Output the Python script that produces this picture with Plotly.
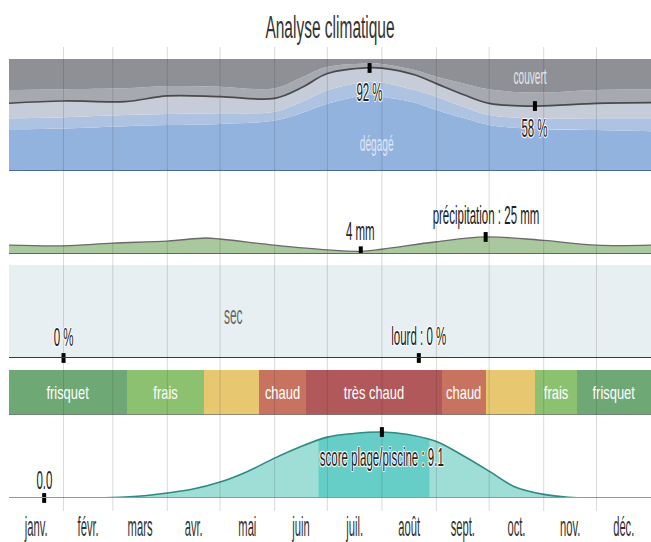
import plotly.graph_objects as go

# ---------------- data ----------------
months = ["janv.", "févr.", "mars", "avr.", "mai", "juin", "juil.", "août", "sept.", "oct.", "nov.", "déc."]
month_days = [31, 28, 31, 30, 31, 30, 31, 31, 30, 31, 30, 31]

# cloud cover (cumulative % boundaries, from bottom)
cloud_days = [0, 31, 66, 90, 120, 151, 167, 181, 205, 212, 231, 243, 259, 273, 299, 334, 365]
clear_top = [37.2, 38, 40, 41, 42, 45, 52, 60, 67.8, 66.4, 61, 54.5, 47, 41, 37.5, 36.6, 35.5]
mostly_clear_top = [47, 48, 50, 51, 51.5, 53, 62, 72, 79.8, 79, 72, 66.4, 57, 50, 47, 47, 47]
partly_cloudy_top = [60.5, 62.5, 62, 67, 66.4, 64.9, 75, 87, 92.3, 91.8, 85.7, 78, 67.8, 60.4, 58, 60.4, 61]
mostly_cloudy_top = [72.3, 73, 73.8, 75.9, 75.3, 73.8, 84, 93, 96, 95.5, 90, 84.2, 78, 72.9, 70, 72.3, 72.9]
overcast_top = [100] * 17
cloud_marker_days = [205, 299]
cloud_marker_pct = [92, 58]

# precipitation (mm)
precip_days = [0, 31, 59, 90, 112, 120, 151, 181, 200, 212, 243, 271, 304, 334, 365]
precip_mm = [13, 12, 16, 19, 23.5, 22, 13, 6, 4, 7, 18, 25, 20, 13, 13]
precip_marker_days = [200, 271]
precip_marker_mm = [4, 25]

# humidity comfort (%)
humid_days = [0, 212, 225, 240, 260, 275, 289, 365]
muggy_pct = [0, 0, 0.9, 1.6, 1.1, 0.4, 0, 0]
dry_pct = [100, 100, 99.1, 98.4, 98.9, 99.6, 100, 100]
humid_marker_days = [31, 233]
humid_marker_pct = [0, 0]

# temperature bands
temp_labels = ["frisquet", "frais", "", "chaud", "très chaud", "chaud", "", "frais", "frisquet"]
temp_start = [0, 67, 111, 142, 169, 246, 271, 299, 323]
temp_end = [67, 111, 142, 169, 246, 271, 299, 323, 365]
temp_colors = ["#6ea875", "#8cc170", "#e7c770", "#c7735f", "#b0585a", "#c7735f", "#e7c770", "#8cc170", "#6ea875"]

# beach / pool score
beach_days = [0, 14, 31, 45, 59, 73, 90, 104, 120, 135, 151, 165, 181, 196, 212, 226, 243, 257, 273, 287, 304, 318, 334, 348, 365]
beach_score = [0, 0, 0, 0, 0.05, 0.25, 0.7, 1.2, 2.2, 3.6, 5.5, 7.0, 8.4, 8.9, 9.1, 8.8, 7.8, 6.0, 3.7, 1.6, 0.5, 0.1, 0, 0, 0]
best_days = [176, 181, 196, 212, 226, 239]
best_score = [8.1, 8.4, 8.9, 9.1, 8.8, 8.1]
beach_marker_days = [20, 212]
beach_marker_score = [0.0, 9.1]

# ---------------- figure ----------------
H = 542.0


def dom(top_px, bottom_px):
    return [1 - bottom_px / H, 1 - top_px / H]


FONT = "Liberation Sans, Arial, sans-serif"
MARK = dict(symbol="line-ns", size=7, line=dict(width=4, color="black"), color="black")
fig = go.Figure()

# cloud panel
cloud_series = [
    (clear_top, "#93b3df", "tozeroy"),
    (mostly_clear_top, "#aec3e2", "tonexty"),
    (partly_cloudy_top, "#c6cdd9", "tonexty"),
    (mostly_cloudy_top, "#a6a9b0", "tonexty"),
    (overcast_top, "#8e9095", "tonexty"),
]
for ys, col, fill in cloud_series:
    fig.add_trace(go.Scatter(x=cloud_days, y=ys, xaxis="x", yaxis="y", mode="lines",
                             line=dict(shape="spline", width=0, color=col),
                             fill=fill, fillcolor=col, hoverinfo="skip"))
fig.add_trace(go.Scatter(x=cloud_days, y=partly_cloudy_top, xaxis="x", yaxis="y", mode="lines",
                         line=dict(shape="spline", width=1.7, color="#4a4a4a"), hoverinfo="skip"))
fig.add_trace(go.Scatter(x=cloud_marker_days, y=cloud_marker_pct, xaxis="x", yaxis="y", mode="markers",
                         marker=MARK, hoverinfo="skip"))

# precipitation
fig.add_trace(go.Scatter(x=precip_days, y=precip_mm, xaxis="x", yaxis="y2", mode="lines",
                         line=dict(shape="spline", width=1.3, color="#6a6a6a"),
                         fill="tozeroy", fillcolor="#aac89d", hoverinfo="skip"))
fig.add_trace(go.Scatter(x=precip_marker_days, y=precip_marker_mm, xaxis="x", yaxis="y2", mode="markers",
                         marker=MARK, hoverinfo="skip"))

# humidity
fig.add_trace(go.Scatter(x=humid_days, y=muggy_pct, xaxis="x", yaxis="y3", mode="lines",
                         line=dict(shape="spline", width=0, color="#b7e3a2"), stackgroup="hum",
                         fillcolor="#b7e3a2", hoverinfo="skip"))
fig.add_trace(go.Scatter(x=humid_days, y=dry_pct, xaxis="x", yaxis="y3", mode="lines",
                         line=dict(shape="spline", width=0, color="#e7eff3"), stackgroup="hum",
                         fillcolor="#e7eff3", hoverinfo="skip"))
fig.add_trace(go.Scatter(x=humid_marker_days, y=humid_marker_pct, xaxis="x", yaxis="y3", mode="markers",
                         marker=MARK, hoverinfo="skip", cliponaxis=False))

# temperature bands
fig.add_trace(go.Bar(x=[e - s for s, e in zip(temp_start, temp_end)], base=temp_start,
                     y=[0] * len(temp_start), orientation="h", xaxis="x", yaxis="y4",
                     marker=dict(color=temp_colors, line=dict(width=0)), width=1,
                     text=temp_labels, textposition="inside", insidetextanchor="middle",
                     constraintext="none", textangle=0,
                     textfont=dict(color="white", size=19, family=FONT), hoverinfo="skip"))

# beach score
fig.add_trace(go.Scatter(x=beach_days, y=beach_score, xaxis="x", yaxis="y5", mode="lines",
                         line=dict(shape="spline", width=0, color="#9fded6"),
                         fill="tozeroy", fillcolor="#9fded6", hoverinfo="skip"))
fig.add_trace(go.Scatter(x=best_days, y=best_score, xaxis="x", yaxis="y5", mode="lines",
                         line=dict(shape="spline", width=0, color="#66cec6"),
                         fill="tozeroy", fillcolor="#66cec6", hoverinfo="skip"))
fig.add_trace(go.Scatter(x=beach_days, y=beach_score, xaxis="x", yaxis="y5", mode="lines",
                         line=dict(shape="spline", width=1.6, color="#2f8a83"), hoverinfo="skip"))
fig.add_trace(go.Scatter(x=beach_marker_days, y=beach_marker_score, xaxis="x", yaxis="y5", mode="markers",
                         marker=MARK, hoverinfo="skip", cliponaxis=False))

# baselines
shapes = []
for yr, col, w in [("y", "#4d6d9e", 2), ("y2", "#666666", 2), ("y3", "#3a3a3a", 2), ("y5", "#8e9b9b", 2)]:
    shapes.append(dict(type="line", xref="paper", x0=0, x1=1, yref=yr, y0=0, y1=0,
                       line=dict(color=col, width=w), layer="above"))
shapes.append(dict(type="line", xref="paper", x0=0, x1=1, yref="y4", y0=-0.5, y1=-0.5,
                   line=dict(color="#777777", width=1.5), layer="above"))
# month grid lines
acc = 0
for d in month_days[:-1]:
    acc += d
    shapes.append(dict(type="line", xref="x", x0=acc, x1=acc, yref="paper",
                       y0=1 - 511 / H, y1=1 - 47 / H,
                       line=dict(color="rgba(40,40,40,0.17)", width=1), layer="above"))

halo = "1px 1px 1px #fff, -1px -1px 1px #fff, 1px -1px 1px #fff, -1px 1px 1px #fff, 0 0 3px #fff"
lab_font = dict(family=FONT, size=25, color="#222", shadow=halo)
annotations = [
    dict(x=cloud_marker_days[0], y=cloud_marker_pct[0], xref="x", yref="y", text="92 %", yshift=-24),
    dict(x=cloud_marker_days[1], y=cloud_marker_pct[1], xref="x", yref="y", text="58 %", yshift=-22),
    dict(x=precip_marker_days[0], y=precip_marker_mm[0], xref="x", yref="y2", text="4 mm", yshift=20),
    dict(x=precip_marker_days[1], y=precip_marker_mm[1], xref="x", yref="y2", text="précipitation : 25 mm", yshift=22),
    dict(x=humid_marker_days[0], y=humid_marker_pct[0], xref="x", yref="y3", text="0 %", yshift=21),
    dict(x=humid_marker_days[1], y=humid_marker_pct[1], xref="x", yref="y3", text="lourd : 0 %", yshift=22),
    dict(x=beach_marker_days[0], y=beach_marker_score[0], xref="x", yref="y5", text="0.0", yshift=18),
    dict(x=beach_marker_days[1], y=beach_marker_score[1], xref="x", yref="y5", text="score plage/piscine : 9.1", yshift=-25),
]
for a in annotations:
    a.update(showarrow=False, font=lab_font, xanchor="center", yanchor="middle")
annotations += [
    dict(x=296, y=84.8, xref="x", yref="y", text="couvert", showarrow=False,
         font=dict(family=FONT, size=22, color="#e4e5e8")),
    dict(x=208.7, y=25, xref="x", yref="y", text="dégagé", showarrow=False,
         font=dict(family=FONT, size=22, color="#dfe7f4")),
    dict(x=127.4, y=46, xref="x", yref="y3", text="sec", showarrow=False,
         font=dict(family=FONT, size=26, color="#666")),
]

ax_hidden = dict(showticklabels=False, showgrid=False, zeroline=False, showline=False, fixedrange=True)
mid_month = []
acc = 0
for d in month_days:
    mid_month.append(acc + d / 2)
    acc += d

fig.update_layout(
    width=651, height=542,
    margin=dict(l=9, r=0, t=0, b=0, autoexpand=False),
    paper_bgcolor="white", plot_bgcolor="rgba(0,0,0,0)",
    showlegend=False,
    title=dict(text="Analyse climatique", x=0.5, xref="paper", y=1 - 27 / H, yref="container",
               xanchor="center", yanchor="middle", font=dict(family=FONT, size=31, color="#333")),
    xaxis=dict(range=[0, 365], domain=[0, 1], anchor="y5", showgrid=False, zeroline=False, showline=False,
               automargin=False, tickangle=0,
               tickmode="array", tickvals=mid_month, ticktext=months, ticks="outside", ticklen=3,
               tickcolor="rgba(0,0,0,0)", tickfont=dict(family=FONT, size=28, color="#333")),
    yaxis=dict(domain=dom(59, 171), range=[0, 100], anchor="x", **ax_hidden),
    yaxis2=dict(domain=dom(175, 254), range=[0, 116], anchor="x", **ax_hidden),
    yaxis3=dict(domain=dom(265, 358), range=[0, 100], anchor="x", **ax_hidden),
    yaxis4=dict(domain=dom(370, 415), range=[-0.5, 0.5], anchor="x", **ax_hidden),
    yaxis5=dict(domain=dom(420, 498), range=[0, 10.76], anchor="x", **ax_hidden),
    shapes=shapes, annotations=annotations,
    bargap=0,
)

post = """
document.documentElement.style.margin = '0';
document.body.style.margin = '0';
document.body.style.padding = '0';
var gd = document.getElementById('{plot_id}');
function squeeze(sel, f){
  gd.querySelectorAll(sel).forEach(function(t){
    var w = t.getComputedTextLength();
    if (w > 0) { t.setAttribute('textLength', (w*f).toFixed(2)); t.setAttribute('lengthAdjust','spacingAndGlyphs'); }
  });
}
squeeze('text.gtitle', 0.5);
squeeze('.xtick text', 0.4);
squeeze('text.annotation-text', 0.46);
squeeze('text.bartext', 0.68);
"""
fig.write_html("out.html", post_script=post, config={"staticPlot": True})
